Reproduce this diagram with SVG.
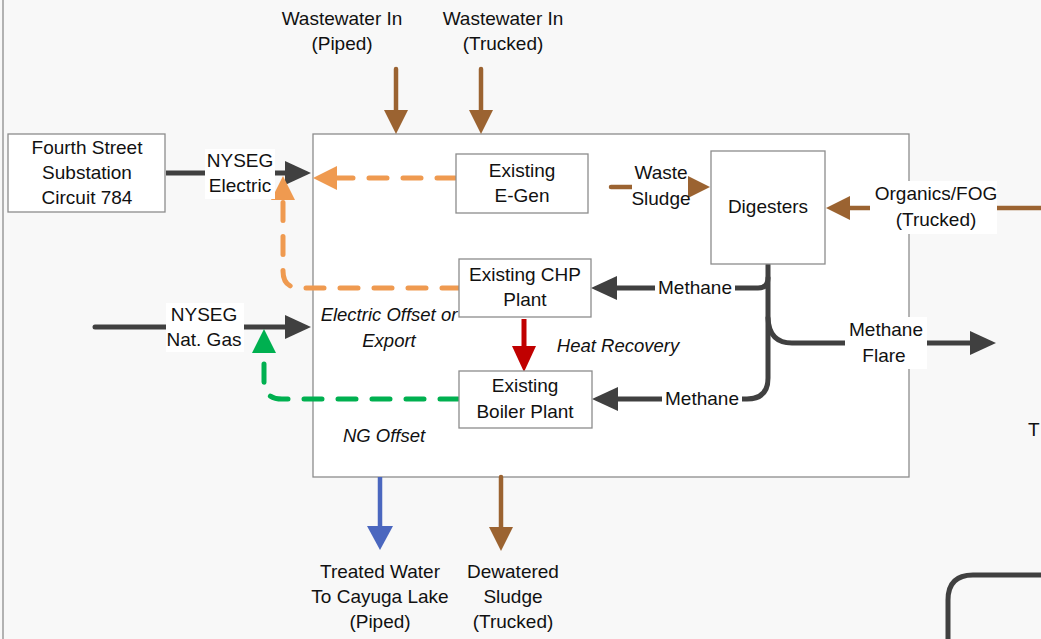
<svg xmlns="http://www.w3.org/2000/svg" width="1041" height="639" viewBox="0 0 1041 639">
<style>
.bg{fill:#f8f8f8}
.box{fill:#ffffff;stroke:#8c8c8c;stroke-width:1.3}
.lbl{fill:#ffffff}
text{font-family:"Liberation Sans",Arial,sans-serif;font-size:19px;fill:#111;text-anchor:middle}
.it{font-style:italic;font-size:18.5px}
.dk{fill:none;stroke:#404040;stroke-width:5;stroke-linecap:round}
.br{fill:none;stroke:#9B6331;stroke-width:4.5;stroke-linecap:round}
.bl{fill:none;stroke:#4B67BF;stroke-width:4.5}
.or{fill:none;stroke:#EF9A50;stroke-width:5;stroke-linecap:round;stroke-dasharray:18 16}
.gr{fill:none;stroke:#00B050;stroke-width:5;stroke-linecap:round;stroke-dasharray:18 16}
.rd{fill:none;stroke:#C00000;stroke-width:5;stroke-linecap:round}
</style>
<defs>
<marker id="aDk" markerUnits="userSpaceOnUse" markerWidth="26" markerHeight="24" refX="13" refY="12" orient="auto"><path d="M0,0 L26,12 L0,24 z" fill="#404040"/></marker>
<marker id="aBr" markerUnits="userSpaceOnUse" markerWidth="24" markerHeight="24" refX="12" refY="12" orient="auto"><path d="M0,0 L24,12 L0,24 z" fill="#9B6331"/></marker>
<marker id="aBl" markerUnits="userSpaceOnUse" markerWidth="24" markerHeight="26" refX="12" refY="13" orient="auto"><path d="M0,0 L24,13 L0,26 z" fill="#4B67BF"/></marker>
<marker id="aOr" markerUnits="userSpaceOnUse" markerWidth="24" markerHeight="24" refX="12" refY="12" orient="auto"><path d="M0,0 L24,12 L0,24 z" fill="#EF9A50"/></marker>
<marker id="aGr" markerUnits="userSpaceOnUse" markerWidth="24" markerHeight="24" refX="12" refY="12" orient="auto"><path d="M0,0 L24,12 L0,24 z" fill="#00B050"/></marker>
<marker id="aRd" markerUnits="userSpaceOnUse" markerWidth="26" markerHeight="24" refX="12" refY="12" orient="auto"><path d="M0,0 L26,12 L0,24 z" fill="#C00000"/></marker>
</defs>
<rect class="bg" x="0" y="0" width="1041" height="639"/>
<line x1="3" y1="0" x2="3" y2="639" stroke="#8c8c8c" stroke-width="1.3"/>

<g id="plant">
<rect class="box" x="313" y="134" width="596" height="343"/>
</g>

<g id="connectors">
<line class="br" x1="396" y1="69" x2="396" y2="122" marker-end="url(#aBr)"/>
<line class="br" x1="481" y1="69" x2="481" y2="122" marker-end="url(#aBr)"/>
<line class="bl" x1="380" y1="477" x2="380" y2="538" marker-end="url(#aBl)"/>
<line class="br" x1="501" y1="477" x2="501" y2="539" marker-end="url(#aBr)"/>
<line class="dk" x1="166" y1="173" x2="298" y2="173" marker-end="url(#aDk)" style="stroke-linecap:butt"/>
<line class="dk" x1="95" y1="327" x2="298" y2="327" marker-end="url(#aDk)"/>
<line class="or" x1="455" y1="178" x2="325" y2="178" marker-end="url(#aOr)"/>
<path class="or" d="M460,288 H300 Q283,288 283,271 V188" marker-end="url(#aOr)"/>
<path class="gr" d="M458,399 H282 Q264,399 264,381 V341" marker-end="url(#aGr)"/>
<line class="rd" x1="524" y1="319" x2="524" y2="358" marker-end="url(#aRd)" style="stroke-linecap:butt"/>
<line class="br" x1="611" y1="187" x2="698" y2="187" marker-end="url(#aBr)"/>
<line class="br" x1="1041" y1="208" x2="838" y2="208" marker-end="url(#aBr)" style="stroke-linecap:butt"/>
<path class="dk" d="M768,265 V378 Q768,399 747,399 H605" marker-end="url(#aDk)"/>
<path class="dk" d="M768,278 Q768,288 758,288 H604" marker-end="url(#aDk)"/>
<path class="dk" d="M768,318 Q769,343 792,343 H983" marker-end="url(#aDk)"/>
<path d="M948,639 V600 Q948,575 973,575 H1041" fill="none" stroke="#404040" stroke-width="5"/>
</g>

<g id="fourth-street">
<rect class="box" x="8" y="134" width="157" height="78"/>
<text x="87" y="154">Fourth Street</text>
<text x="87" y="179">Substation</text>
<text x="87" y="204">Circuit 784</text>
</g>

<g id="lbl-nyseg-electric">
<rect class="lbl" x="205" y="149" width="70" height="50"/>
<text x="240" y="167">NYSEG</text>
<text x="240" y="192">Electric</text>
</g>

<g id="lbl-nyseg-gas">
<rect class="lbl" x="166" y="303" width="78" height="49"/>
<text x="204" y="321">NYSEG</text>
<text x="204" y="346">Nat. Gas</text>
</g>

<g id="egen">
<rect class="box" x="456" y="154" width="132" height="59"/>
<text x="522" y="177">Existing</text>
<text x="522" y="202">E-Gen</text>
</g>

<g id="chp">
<rect class="box" x="459" y="259" width="132" height="58"/>
<text x="525" y="281">Existing CHP</text>
<text x="525" y="306">Plant</text>
</g>

<g id="boiler">
<rect class="box" x="459" y="371" width="133" height="57"/>
<text x="525" y="392">Existing</text>
<text x="525" y="418">Boiler Plant</text>
</g>

<g id="digesters">
<rect class="box" x="711" y="151" width="114" height="113"/>
<text x="768" y="213">Digesters</text>
</g>

<g id="lbl-waste-sludge">
<rect class="lbl" x="632" y="163" width="56" height="48"/>
<text x="661" y="179">Waste</text>
<text x="661" y="205">Sludge</text>
</g>

<g id="lbl-organics">
<rect class="lbl" x="870" y="181" width="127" height="53"/>
<text x="936" y="200">Organics/FOG</text>
<text x="936" y="226">(Trucked)</text>
</g>

<g id="lbl-methane-1">
<rect class="lbl" x="655" y="278" width="80" height="20"/>
<text x="695" y="294">Methane</text>
</g>
<g id="lbl-methane-2">
<rect class="lbl" x="662" y="389" width="80" height="20"/>
<text x="702" y="405">Methane</text>
</g>
<g id="lbl-flare">
<rect class="lbl" x="845" y="317" width="82" height="52"/>
<text x="886" y="336">Methane</text>
<text x="884" y="362">Flare</text>
</g>

<g id="italic-labels">
<text class="it" x="389" y="321">Electric Offset or</text>
<text class="it" x="389" y="347">Export</text>
<text class="it" x="618" y="352">Heat Recovery</text>
<text class="it" x="384" y="442">NG Offset</text>
</g>

<g id="top-labels">
<text x="342" y="25">Wastewater In</text>
<text x="342" y="50">(Piped)</text>
<text x="503" y="25">Wastewater In</text>
<text x="503" y="50">(Trucked)</text>
</g>

<g id="bottom-labels">
<text x="380" y="578">Treated Water</text>
<text x="380" y="603">To Cayuga Lake</text>
<text x="380" y="628">(Piped)</text>
<text x="513" y="578">Dewatered</text>
<text x="513" y="603">Sludge</text>
<text x="513" y="628">(Trucked)</text>
</g>

<text x="1028" y="436" style="text-anchor:start">T</text>
</svg>
